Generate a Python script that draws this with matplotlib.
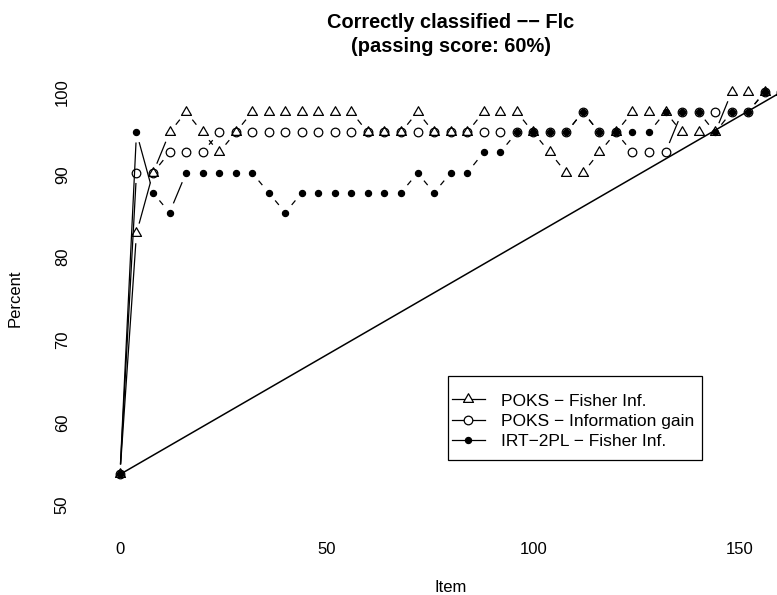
import numpy as np
import matplotlib
matplotlib.use("Agg")
import matplotlib.pyplot as plt
from matplotlib.collections import LineCollection
from matplotlib.lines import Line2D
from matplotlib.patches import Rectangle
from matplotlib.path import Path

plt.rcParams["font.family"] = ["Liberation Sans", "DejaVu Sans"]

# items administered (x axis)
items = [0, 4, 8, 12, 16, 20, 24, 28, 32, 36, 40, 44, 48, 52, 56, 60, 64, 68, 72, 76,
         80, 84, 88, 92, 96, 100, 104, 108, 112, 116, 120, 124, 128, 132, 136, 140,
         144, 148, 152, 156, 160]

# percent correctly classified
poks_fisher = [53.7, 82.9, 90.2, 95.1, 97.6, 95.1, 92.7, 95.1, 97.6, 97.6, 97.6, 97.6,
               97.6, 97.6, 97.6, 95.1, 95.1, 95.1, 97.6, 95.1, 95.1, 95.1, 97.6, 97.6,
               97.6, 95.1, 92.7, 90.2, 90.2, 92.7, 95.1, 97.6, 97.6, 97.6, 95.1, 95.1,
               95.1, 100.0, 100.0, 100.0, 100.0]
poks_infogain = [53.7, 90.2, 90.2, 92.7, 92.7, 92.7, 95.1, 95.1, 95.1, 95.1, 95.1, 95.1,
                 95.1, 95.1, 95.1, 95.1, 95.1, 95.1, 95.1, 95.1, 95.1, 95.1, 95.1, 95.1,
                 95.1, 95.1, 95.1, 95.1, 97.6, 95.1, 95.1, 92.7, 92.7, 92.7, 97.6, 97.6,
                 97.6, 97.6, 97.6, 100.0, 100.0]
irt_fisher = [53.7, 95.1, 87.8, 85.4, 90.2, 90.2, 90.2, 90.2, 90.2, 87.8, 85.4, 87.8,
              87.8, 87.8, 87.8, 87.8, 87.8, 87.8, 90.2, 87.8, 90.2, 90.2, 92.7, 92.7,
              95.1, 95.1, 95.1, 95.1, 97.6, 95.1, 95.1, 95.1, 95.1, 97.6, 97.6, 97.6,
              95.1, 97.6, 97.6, 100.0, 100.0]
# straight reference line
ref_x = [0, 160]
ref_y = [53.7, 100.0]

labels = ["POKS \u2212 Fisher Inf.", "POKS \u2212 Information gain", "IRT\u22122PL \u2212 Fisher Inf."]

W, H = 777, 595
fig = plt.figure(figsize=(W / 100, H / 100), dpi=100)
# plot region in pixels (extends past right edge, like the cropped scan)
L, R, T, B = 93.5, 807.7, 75.5, 521.5
ax = fig.add_axes([L / W, 1 - B / H, (R - L) / W, (B - T) / H])
ax.set_xlim(-6.4, 166.4)
ax.set_ylim(48, 102)
for s in ax.spines.values():
    s.set_visible(False)
ax.set_xticks([0, 50, 100, 150])
ax.set_yticks([50, 60, 70, 80, 90, 100])
ax.tick_params(length=0, labelsize=12)
ax.tick_params(axis="x", pad=15)
ax.tick_params(axis="y", pad=17, labelrotation=90)
for t in ax.get_yticklabels():
    t.set_va("center")

# open triangle like R pch=2
tri = Path([(0, 1), (-0.866, -0.5), (0.866, -0.5), (0, 1)], closed=True)


def gapped(x, y, gap=10, **kw):
    # R type="b": segments broken around each point
    pts = ax.transData.transform(np.column_stack([x, y]))
    inv = ax.transData.inverted()
    segs = []
    for p, q in zip(pts[:-1], pts[1:]):
        d = q - p
        n = np.hypot(*d)
        if n <= 2 * gap:
            continue
        u = d / n
        segs.append(inv.transform(np.array([p + u * gap, q - u * gap])))
    ax.add_collection(LineCollection(segs, colors="k", linewidths=0.9))


series = [(poks_fisher, dict(marker=tri, ms=8.3, mfc="none")),
          (poks_infogain, dict(marker="o", ms=6.2, mfc="none")),
          (irt_fisher, dict(marker="o", ms=4.4, mfc="k"))]
for vals, mk in series:
    gapped(items, vals)
    ax.plot(items, vals, ls="none", color="k", mec="k", mew=0.9, clip_on=False, **mk)

ax.plot(ref_x, ref_y, "-", color="k", lw=1.1)

handles = [Line2D([], [], color="k", lw=0.9, marker=tri, ms=8.3, mfc="white", mec="k", mew=0.9),
           Line2D([], [], color="k", lw=0.9, marker="o", ms=6.2, mfc="white", mec="k", mew=0.9),
           Line2D([], [], color="k", lw=0.9, marker="o", ms=4.4, mfc="k", mec="k", mew=0.9)]
ax.legend(handles, labels, loc="center left", bbox_to_anchor=((452 - L) / (R - L), 1 - (421 - T) / (B - T)),
          frameon=False, borderpad=0, borderaxespad=0, fontsize=12.5, handlelength=1.9,
          handletextpad=0.9, labelspacing=0.28)
ax.add_patch(Rectangle(((448 - L) / (R - L), 1 - (460 - T) / (B - T)),
                       (702 - 448) / (R - L), (460 - 376) / (B - T),
                       transform=ax.transAxes, fill=False, ec="k", lw=0.9))

cx = (L + R) / 2 / W
fig.text(cx, 1 - 22 / H, "Correctly classified \u2212\u2212 Flc", ha="center", va="center",
         fontsize=14.4, fontweight="bold")
fig.text(cx, 1 - 46 / H, "(passing score: 60%)", ha="center", va="center",
         fontsize=14.4, fontweight="bold")
fig.text(cx, 1 - 588 / H, "Item", ha="center", va="center", fontsize=12)
fig.text(15 / W, 1 - 298 / H, "Percent", ha="center", va="center", rotation=90, fontsize=12)

fig.savefig("out.png", dpi=100)
